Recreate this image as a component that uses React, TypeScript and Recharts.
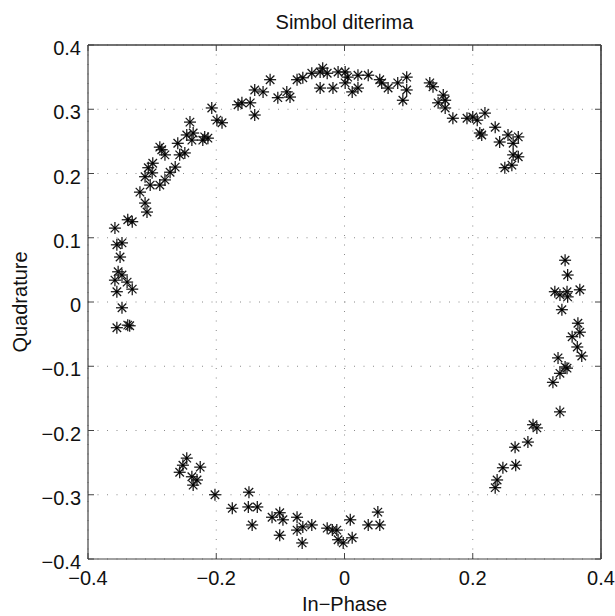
import React from 'react';
import { ScatterChart, Scatter, XAxis, YAxis, CartesianGrid, ReferenceLine } from 'recharts';

const title = 'Simbol diterima';
const xLabel = 'In\u2212Phase';
const yLabel = 'Quadrature';
const xTicks = [-0.4, -0.2, 0, 0.2, 0.4];
const yTicks = [-0.4, -0.3, -0.2, -0.1, 0, 0.1, 0.2, 0.3, 0.4];

const upperLeftArc: [number, number][] = [
  [-0.358, 0.115], [-0.331, 0.125], [-0.338, 0.128], [-0.308, 0.14], [-0.311, 0.154], [-0.319, 0.171],
  [-0.303, 0.182], [-0.288, 0.182], [-0.311, 0.195], [-0.3, 0.201], [-0.306, 0.209], [-0.299, 0.216],
  [-0.28, 0.19], [-0.272, 0.202], [-0.264, 0.21], [-0.257, 0.229], [-0.249, 0.232], [-0.26, 0.247],
  [-0.288, 0.241], [-0.28, 0.229], [-0.285, 0.237], [-0.246, 0.26], [-0.238, 0.252], [-0.241, 0.28],
  [-0.236, 0.263], [-0.218, 0.257], [-0.213, 0.255], [-0.221, 0.252], [-0.207, 0.302], [-0.199, 0.283],
  [-0.191, 0.279], [-0.166, 0.307], [-0.16, 0.31], [-0.147, 0.31], [-0.14, 0.291], [-0.14, 0.33],
  [-0.127, 0.327], [-0.116, 0.346], [-0.104, 0.318], [-0.09, 0.327], [-0.085, 0.319], [-0.074, 0.346],
  [-0.065, 0.349], [-0.051, 0.356], [-0.038, 0.333], [-0.034, 0.364], [-0.038, 0.358], [-0.027, 0.356],
];

const upperRightArc: [number, number][] = [
  [-0.018, 0.333], [-0.01, 0.358], [0.001, 0.358], [0.001, 0.341], [0.005, 0.35], [0.012, 0.327],
  [0.021, 0.333], [0.021, 0.353], [0.037, 0.353], [0.055, 0.346], [0.058, 0.341], [0.068, 0.333],
  [0.083, 0.341], [0.097, 0.35], [0.097, 0.33], [0.091, 0.314], [0.133, 0.341], [0.138, 0.335],
  [0.154, 0.322], [0.157, 0.314], [0.146, 0.31], [0.157, 0.302], [0.169, 0.286], [0.191, 0.286],
  [0.2, 0.288], [0.207, 0.283], [0.219, 0.294], [0.214, 0.26], [0.211, 0.263], [0.235, 0.272],
  [0.242, 0.249], [0.255, 0.26], [0.271, 0.257], [0.263, 0.247], [0.263, 0.229], [0.271, 0.226],
  [0.261, 0.213], [0.25, 0.209],
];

const leftArc: [number, number][] = [
  [-0.355, 0.089], [-0.347, 0.092], [-0.35, 0.07], [-0.353, 0.047], [-0.347, 0.042], [-0.358, 0.034],
  [-0.339, 0.031], [-0.331, 0.02], [-0.355, 0.016], [-0.347, -0.009], [-0.355, -0.04], [-0.338, -0.036],
  [-0.335, -0.037],
];

const rightArc: [number, number][] = [
  [0.344, 0.065], [0.348, 0.042], [0.328, 0.016], [0.336, 0.011], [0.347, 0.016], [0.348, 0.008],
  [0.367, 0.019], [0.339, -0.012], [0.364, -0.033], [0.367, -0.047], [0.355, -0.054], [0.363, -0.07],
  [0.37, -0.084], [0.333, -0.087], [0.344, -0.101], [0.336, -0.111], [0.347, -0.103], [0.325, -0.125],
  [0.336, -0.171], [0.294, -0.191], [0.3, -0.196], [0.286, -0.218], [0.266, -0.226], [0.267, -0.254],
  [0.247, -0.258], [0.238, -0.277], [0.235, -0.289],
];

const lowerArc: [number, number][] = [
  [-0.246, -0.243], [-0.252, -0.254], [-0.257, -0.265], [-0.225, -0.257], [-0.238, -0.272], [-0.23, -0.277],
  [-0.236, -0.285], [-0.202, -0.3], [-0.175, -0.321], [-0.149, -0.296], [-0.15, -0.319], [-0.136, -0.319],
  [-0.144, -0.347], [-0.113, -0.335], [-0.101, -0.328], [-0.096, -0.339], [-0.101, -0.363], [-0.074, -0.335],
  [-0.074, -0.355], [-0.066, -0.375], [-0.065, -0.35], [-0.051, -0.347], [-0.027, -0.352], [-0.019, -0.355],
  [-0.012, -0.355], [-0.01, -0.37], [-0.002, -0.375], [0.009, -0.339], [0.012, -0.367], [0.037, -0.347],
  [0.052, -0.327], [0.055, -0.347],
];

const symbols = [...upperLeftArc, ...upperRightArc, ...leftArc, ...rightArc, ...lowerArc].map(([x, y]) => ({ x, y }));

const FONT = 'Liberation Sans, Arial, Helvetica, sans-serif';
const AXIS = '#444';
const TEXT = '#111';

const fmt = (v: number) => (Math.abs(v) < 1e-9 ? '0' : (v < 0 ? '\u2212' : '') + Math.abs(v).toFixed(1));

const BottomTick = (p: any) => (
  <g>
    <line x1={p.x} y1={p.y} x2={p.x} y2={p.y - 6} stroke={AXIS} strokeWidth={1} />
    <text x={p.x} y={p.y + 26} textAnchor="middle" fontSize={20} fontFamily={FONT} fill={TEXT}>{fmt(p.payload.value)}</text>
  </g>
);
const TopTick = (p: any) => (
  <line x1={p.x} y1={p.y} x2={p.x} y2={p.y + 6} stroke={AXIS} strokeWidth={1} />
);
const LeftTick = (p: any) => (
  <g>
    <line x1={p.x} y1={p.y} x2={p.x + 6} y2={p.y} stroke={AXIS} strokeWidth={1} />
    <text x={p.x - 7} y={p.y + 10} textAnchor="end" fontSize={20} fontFamily={FONT} fill={TEXT}>{fmt(p.payload.value)}</text>
  </g>
);
const RightTick = (p: any) => (
  <line x1={p.x} y1={p.y} x2={p.x - 6} y2={p.y} stroke={AXIS} strokeWidth={1} />
);

const Star = (p: any) => {
  const { cx, cy } = p;
  if (cx == null || cy == null) return <g />;
  const r = 6;
  const d = r * 0.7071;
  return (
    <g stroke="#151515" strokeWidth={1.25}>
      <line x1={cx - r} y1={cy} x2={cx + r} y2={cy} />
      <line x1={cx} y1={cy - r} x2={cx} y2={cy + r} />
      <line x1={cx - d} y1={cy - d} x2={cx + d} y2={cy + d} />
      <line x1={cx - d} y1={cy + d} x2={cx + d} y2={cy - d} />
      <circle cx={cx} cy={cy} r={1.3} fill="#000" stroke="none" />
    </g>
  );
};
const Nothing = () => <g />;

const XTitle = (p: any) => {
  const vb = p.viewBox || {};
  return (
    <text x={vb.x + vb.width / 2} y={vb.y + vb.height - 5} textAnchor="middle" fontSize={20} fontFamily={FONT} fill={TEXT}>{xLabel}</text>
  );
};
const YTitle = (p: any) => {
  const vb = p.viewBox || {};
  const x = vb.x + 27;
  const y = vb.y + vb.height / 2;
  return (
    <text x={x} y={y} transform={`rotate(-90, ${x}, ${y})`} textAnchor="middle" fontSize={20} fontFamily={FONT} fill={TEXT}>{yLabel}</text>
  );
};

export default function App() {
  return (
    <div style={{ position: 'absolute', left: 0, top: 0, width: 615, height: 616, background: '#fff' }}>
      <ScatterChart width={615} height={616} margin={{ top: 44, right: 13, bottom: 0, left: 0 }}>
        <CartesianGrid stroke="#8a8a8a" strokeDasharray="1 8.5" strokeWidth={1} />
        <XAxis
          type="number" dataKey="x" xAxisId={0} orientation="bottom" domain={[-0.4, 0.4]} ticks={xTicks}
          allowDataOverflow interval={0} height={57} tickSize={0} tickMargin={0} tickLine={false}
          axisLine={{ stroke: AXIS, strokeWidth: 1.2 }} tick={BottomTick} label={{ content: XTitle }}
        />
        <XAxis
          type="number" dataKey="x" xAxisId="top" orientation="top" domain={[-0.4, 0.4]} ticks={xTicks}
          allowDataOverflow interval={0} height={1} tickSize={0} tickMargin={0} tickLine={false}
          axisLine={{ stroke: AXIS, strokeWidth: 1.2 }} tick={TopTick}
        />
        <YAxis
          type="number" dataKey="y" yAxisId={0} orientation="left" domain={[-0.4, 0.4]} ticks={yTicks}
          allowDataOverflow interval={0} width={88} tickSize={0} tickMargin={0} tickLine={false}
          axisLine={{ stroke: AXIS, strokeWidth: 1.2 }} tick={LeftTick} label={{ content: YTitle }}
        />
        <YAxis
          type="number" dataKey="y" yAxisId="right" orientation="right" domain={[-0.4, 0.4]} ticks={yTicks}
          allowDataOverflow interval={0} width={1} tickSize={0} tickMargin={0} tickLine={false}
          axisLine={{ stroke: AXIS, strokeWidth: 1.2 }} tick={RightTick}
        />
        <ReferenceLine xAxisId={0} yAxisId={0} y={0.4} stroke={AXIS} strokeWidth={1.2}
          label={{ value: title, position: 'top', offset: 16, fontSize: 20, fontFamily: FONT, fill: TEXT }} />
        <ReferenceLine xAxisId={0} yAxisId={0} x={0.4} stroke={AXIS} strokeWidth={1.2} />
        <Scatter data={symbols} xAxisId="top" yAxisId="right" shape={Nothing} isAnimationActive={false} />
        <Scatter data={symbols} xAxisId={0} yAxisId={0} shape={Star} isAnimationActive={false} />
      </ScatterChart>
    </div>
  );
}
